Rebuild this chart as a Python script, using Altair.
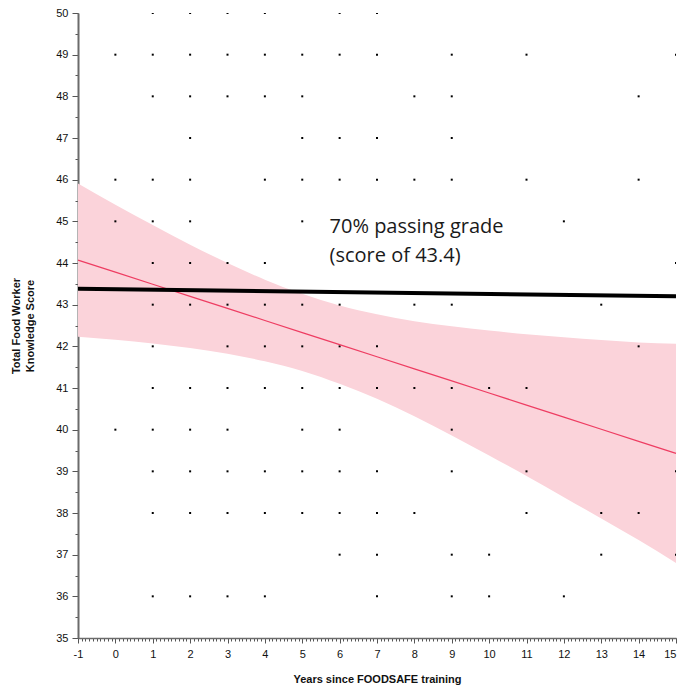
import altair as alt
import pandas as pd

# ---- data ----
years = list(range(-1, 16))
fit_score = [44.07, 43.78, 43.49, 43.20, 42.91, 42.62, 42.33, 42.04, 41.75,
             41.46, 41.17, 40.88, 40.59, 40.30, 40.01, 39.72, 39.43]
band_high = [45.91, 45.40, 44.91, 44.44, 44.00, 43.60, 43.26, 42.98, 42.77,
             42.60, 42.48, 42.38, 42.29, 42.22, 42.15, 42.09, 42.06]
band_low = [42.23, 42.16, 42.07, 41.96, 41.82, 41.64, 41.41, 41.10, 40.74,
            40.32, 39.86, 39.38, 38.89, 38.38, 37.87, 37.35, 36.80]

pass_years = [-1, 15]
pass_score = [43.38, 43.20]

row50 = [1, 2, 3, 4, 6, 7]
row49 = [0, 1, 2, 3, 4, 5, 6, 7, 9, 11, 15]
row48 = [1, 2, 3, 4, 5, 8, 9, 14]
row47 = [2, 5, 6, 7, 9]
row46 = [0, 1, 2, 4, 5, 6, 7, 8, 9, 11, 14]
row45 = [0, 1, 2, 5, 12]
row44 = [1, 2, 3, 4, 15]
row43 = [1, 2, 3, 4, 5, 6, 8, 9, 13]
row42 = [1, 3, 4, 5, 6, 7, 14]
row41 = [1, 2, 3, 4, 5, 6, 7, 8, 9, 10, 11]
row40 = [0, 1, 2, 3, 5, 6, 9]
row39 = [1, 2, 3, 4, 5, 6, 7, 9, 11, 15]
row38 = [1, 2, 3, 4, 5, 6, 7, 8, 11, 13, 14]
row37 = [6, 7, 9, 10, 13, 15]
row36 = [1, 2, 3, 4, 7, 9, 10, 12]

x_major = list(range(-1, 16))
y_major = list(range(35, 51))
x_minor = [round(-1 + 0.1 * i, 1) for i in range(161)]
y_minor = [35 + 0.5 * i for i in range(31)]

rows = [(50, row50), (49, row49), (48, row48), (47, row47), (46, row46),
        (45, row45), (44, row44), (43, row43), (42, row42), (41, row41),
        (40, row40), (39, row39), (38, row38), (37, row37), (36, row36)]
dots = pd.DataFrame([{"year": x, "score": s} for s, xs in rows for x in xs])
band_df = pd.DataFrame({"year": years, "low": band_low, "high": band_high, "fit": fit_score})
pass_df = pd.DataFrame({"year": pass_years, "score": pass_score})
text_df = pd.DataFrame({"year": [5.73], "score": [44.72],
                        "label": ["70% passing grade\n(score of 43.4)"]})

xs = alt.Scale(domain=[-1, 15], nice=False, zero=False)
ys = alt.Scale(domain=[35, 50], nice=False, zero=False)

AX = dict(domainColor="#6b6b6b", tickColor="#555555", grid=False,
          labelFont="Arial, Liberation Sans", labelFontSize=11, labelColor="#111111",
          titleFont="Arial, Liberation Sans", titleFontSize=11, titleFontWeight="bold",
          titleColor="#111111")

minor_x = alt.Axis(orient="bottom", values=x_minor, labels=False, domain=False,
                   tickSize=3, tickColor="#555555", grid=False, title=None)
minor_y = alt.Axis(orient="left", values=y_minor, labels=False, domain=False,
                   tickSize=3, tickColor="#555555", grid=False, title=None)

major_x = alt.Axis(orient="bottom", values=x_major, labelExpr="'' + datum.value", tickSize=5,
                   labelPadding=5, domainWidth=1.5, labelFlush=False, labelOverlap=False,
                   labelAlign={"expr": "datum.value == 15 ? 'right' : 'center'"},
                   title="Years since FOODSAFE training", titlePadding=14, **AX)
major_y = alt.Axis(orient="left", values=y_major, labelExpr="'' + datum.value", tickSize=6,
                   labelPadding=4, domainWidth=2, labelOverlap=False,
                   title=["Total Food Worker", "Knowledge Score"], titlePadding=20,
                   titleLineHeight=14, **AX)

band = alt.Chart(band_df).mark_area(color="#fbd3da", opacity=1, interpolate="monotone").encode(
    x=alt.X("year:Q", scale=xs, axis=minor_x),
    y=alt.Y("low:Q", scale=ys, axis=minor_y),
    y2="high:Q",
)

points = alt.Chart(dots).mark_square(size=4, color="black", opacity=1, clip=True).encode(
    x=alt.X("year:Q", scale=xs, axis=major_x),
    y=alt.Y("score:Q", scale=ys, axis=major_y),
)

fit = alt.Chart(band_df).mark_line(color="#ee3d62", strokeWidth=1.2).encode(
    x=alt.X("year:Q", scale=xs, axis=None),
    y=alt.Y("fit:Q", scale=ys, axis=None),
)

passline = alt.Chart(pass_df).mark_line(color="black", strokeWidth=4).encode(
    x=alt.X("year:Q", scale=xs, axis=None),
    y=alt.Y("score:Q", scale=ys, axis=None),
)

label = alt.Chart(text_df).mark_text(align="left", baseline="alphabetic", lineBreak="\n",
                                     font="Open Sans", fontSize=20, lineHeight=28.5,
                                     color="#1a1a1a").encode(
    x=alt.X("year:Q", scale=xs, axis=None),
    y=alt.Y("score:Q", scale=ys, axis=None),
    text="label:N",
)

chart = alt.layer(band, points, fit, passline, label).resolve_axis(
    x="independent", y="independent"
).properties(
    width=598, height=625,
    autosize=alt.AutoSizeParams(type="none"),
    padding={"left": 70, "top": 5, "right": 1, "bottom": 51},
).configure_view(stroke=None)

chart.save("out.html", embed_options={"renderer": "svg", "actions": False})
